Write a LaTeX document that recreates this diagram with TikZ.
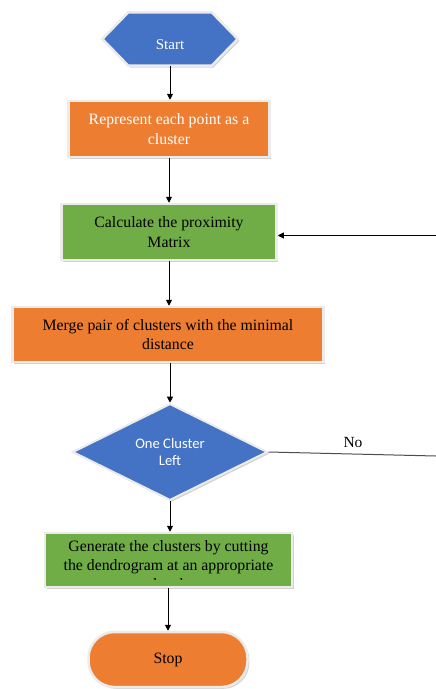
\documentclass[tikz,border=0pt]{standalone}
\usepackage{fontspec}
\setmainfont{Liberation Serif}
\newfontfamily\carlito{Carlito}
\usetikzlibrary{shapes.geometric,arrows.meta,shadows,calc}
\pgfdeclarelayer{bg}
\pgfsetlayers{bg,main}
\definecolor{cblue}{HTML}{4472C4}
\definecolor{corange}{HTML}{ED7D31}
\definecolor{cgreen}{HTML}{70AD47}
\definecolor{cborder}{HTML}{EBEBEB}
\tikzset{
  base/.style={draw=cborder, line width=2.5pt, align=center, inner sep=0pt,
    font=\fontsize{15.8}{19.5}\selectfont,
    drop shadow={shadow xshift=1.8pt, shadow yshift=-1.8pt, opacity=0.35}},
  obox/.style={base, rectangle, fill=corange},
  gbox/.style={base, rectangle, fill=cgreen},
  flow/.style={draw=black, line width=0.9pt, -{Triangle[length=6pt,width=6pt]}},
  noline/.style={draw=black!70, line width=1pt},
}
\begin{document}
\begin{tikzpicture}[x=1pt,y=-1pt]
\useasboundingbox (0,0) rectangle (436,689);

% start hexagon
\node[minimum width=135pt, minimum height=53pt, inner sep=0pt, text=white,
  text height=20pt, text depth=0pt,
  font=\fontsize{15}{17}\selectfont] (start) at (170,39) {Start};
\begin{pgfonlayer}{bg}
\path[base, fill=cblue]
  (start.west) -- ([xshift=26pt]start.north west) -- ([xshift=-26pt]start.north east)
  -- (start.east) -- ([xshift=-26pt]start.south east) -- ([xshift=26pt]start.south west) -- cycle;
\end{pgfonlayer}

\node[obox, text=white, minimum width=201pt, minimum height=56pt] (b1) at (169,129)
  {Represent each point as a\\cluster};

\node[gbox, text=black, minimum width=215pt, minimum height=56pt] (b2) at (169,232)
  {Calculate the proximity\\Matrix};

\node[obox, text=black, minimum width=311pt, minimum height=55pt] (b3) at (168,334.5)
  {Merge pair of clusters with the minimal\\distance};

\node[base, diamond, fill=cblue, line width=2pt, minimum width=195pt, minimum height=85pt,
  text=white, font=\carlito\fontsize{14.6}{17}\selectfont] (dec) at (170,452)
  {One Cluster\\Left};

\node[gbox, minimum width=247pt, minimum height=54pt] (b4) at (168.5,560) {};
\begin{scope}
  \clip ([xshift=2pt,yshift=-2pt]b4.north west) rectangle ([xshift=-2pt,yshift=8.5pt]b4.south east);
  \node[align=center, font=\fontsize{15.8}{19}\selectfont, text=black, anchor=north]
    (b4t) at ([yshift=-5.5pt]b4.north)
    {Generate the clusters by cutting\\the dendrogram at an appropriate\\level};
\end{scope}

\node[base, rectangle, rounded corners=26pt, fill=corange, text=black,
  minimum width=159pt, minimum height=55pt] (stop) at (168,659.5) {Stop};

% connectors
\draw[flow] (start.south) -- (start.south |- b1.north);
\draw[flow] (b1.south) -- (b1.south |- b2.north);
\draw[flow] (b2.south) -- (b2.south |- b3.north);
\draw[flow] (b3.south -| dec.north) -- (dec.north);
\draw[flow] (dec.south) -- (dec.south |- b4.north);
\draw[flow] (b4.south -| stop.north) -- (stop.north);

\coordinate (fb) at (436,235.5);
\draw[flow] (fb) -- (fb -| b2.east);

\coordinate (noend) at (436,456);
\draw[noline] (dec.east) -- (noend);
\node[font=\fontsize{15.5}{17}\selectfont, inner sep=0pt] (nolbl) at (353,442) {No};
\end{tikzpicture}
\end{document}
